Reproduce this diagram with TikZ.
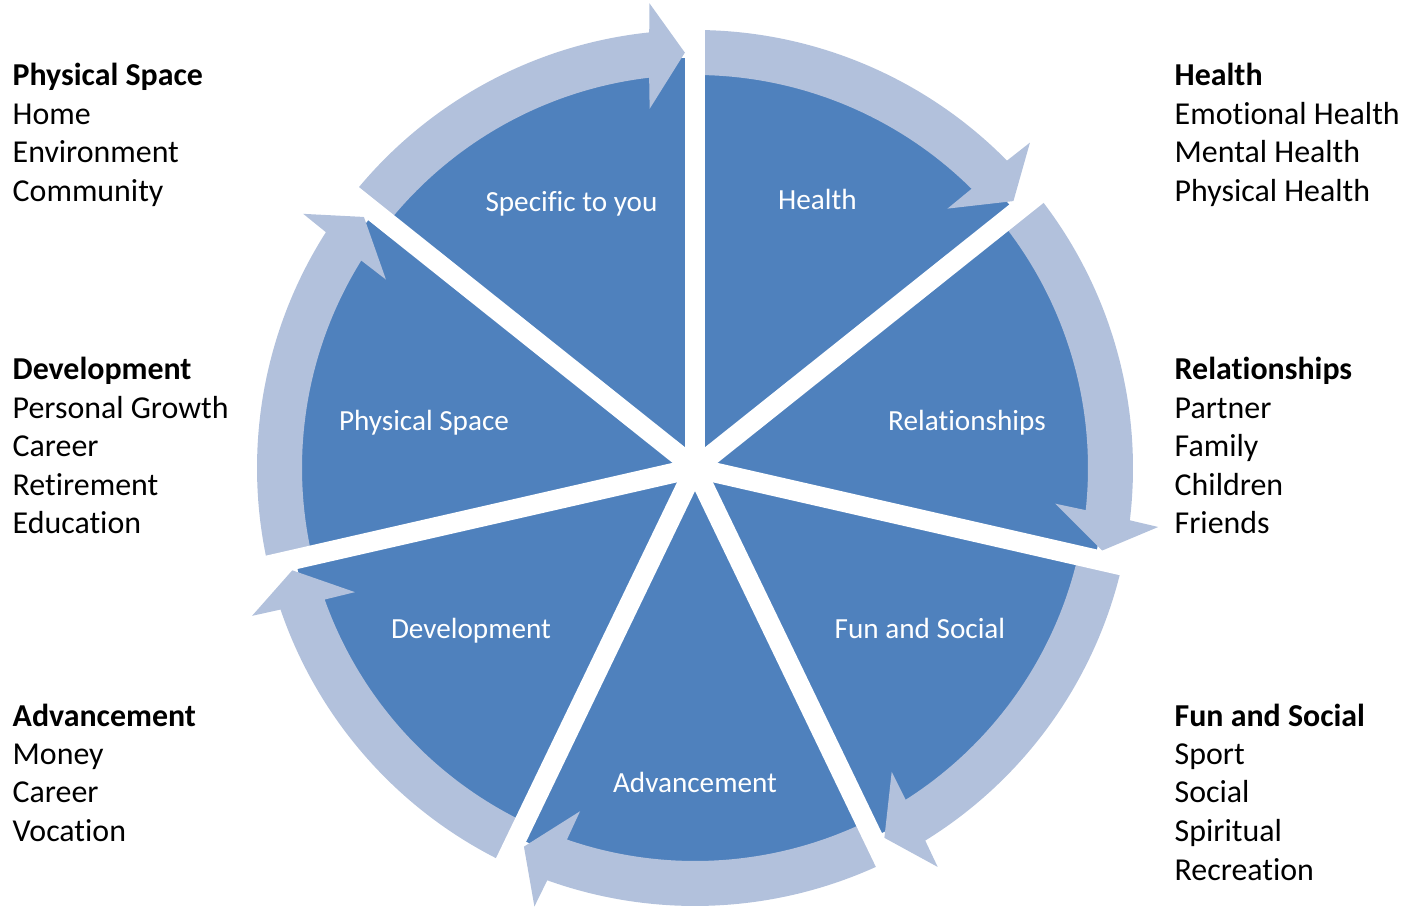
\documentclass[tikz,border=0pt]{standalone}
\usepackage{fontspec}
\setmainfont{Carlito}[RawFeature={-liga;-dlig;-calt;-clig}]
\definecolor{piecol}{HTML}{4F81BD}
\definecolor{arrcol}{HTML}{B2C1DC}
\tikzset{
  piefill/.style={fill=piecol},
  arrowfill/.style={fill=arrcol},
  gapline/.style={draw=white, line width=20pt},
  seglabel/.style={text=white, anchor=base, inner sep=0pt, font=\fontsize{29.2}{35}\selectfont},
  sidelabel/.style={text=black, anchor=base west, inner sep=0pt, font=\fontsize{31.9}{38.5}\selectfont}
}
\begin{document}
\begin{tikzpicture}[x=1pt,y=1pt]
\useasboundingbox (0,0) rectangle (1401,906);
\begin{scope}[shift={(695,438)}]
  \fill[piefill] (0,0) circle[radius=410];
  \foreach \k in {0,...,6} {
    \pgfmathsetmacro\s{141.4286-51.4286*\k}
    \pgfmathsetmacro\e{\s-51.4286}
    \pgfmathsetmacro\t{\e+1.4}
    \pgfmathsetmacro\ao{\t+4.6}
    \pgfmathsetmacro\bo{\t+4.2}
    \pgfmathsetmacro\bi{\t+5.8}
    \pgfmathsetmacro\ai{\t+5.3}
    \fill[arrowfill] (\s:393) -- (\s:438) arc[start angle=\s, end angle=\ao, radius=438]
      -- (\bo:467) -- (\t:415.5) -- (\bi:362) -- (\ai:393)
      arc[start angle=\ai, end angle=\s, radius=393] -- cycle;
  }
  \foreach \k in {0,...,6} {
    \draw[gapline] (0,0) -- ({90-51.4286*\k}:452);
  }
  \fill[white] (0,0) circle[radius=10];
\end{scope}

\node[seglabel] (lspec) at (571.5,694.5) {Specific to you};
\node[seglabel] (lhealth) at (817.5,696.5) {Health};
\node[seglabel] (lrel) at (967,475.5) {Relationships};
\node[seglabel] (lfun) at (920,267.5) {Fun and Social};
\node[seglabel] (ladv) at (695,113.5) {Advancement};
\node[seglabel] (ldev) at (471,267.5) {Development};
\node[seglabel] (lphys) at (424,475.5) {Physical Space};

\node[sidelabel] (tps) at (12.5,820) {\begin{tabular}[t]{@{}l@{}}\textbf{Physical Space}\\Home\\Environment\\Community\end{tabular}};
\node[sidelabel] (tdev) at (12.5,526) {\begin{tabular}[t]{@{}l@{}}\textbf{Development}\\Personal Growth\\Career\\Retirement\\Education\end{tabular}};
\node[sidelabel] (tadv) at (12.5,180) {\begin{tabular}[t]{@{}l@{}}\textbf{Advancement}\\Money\\Career\\Vocation\end{tabular}};
\node[sidelabel] (th) at (1174.5,820) {\begin{tabular}[t]{@{}l@{}}\textbf{Health}\\Emotional Health\\Mental Health\\Physical Health\end{tabular}};
\node[sidelabel] (tr) at (1174.5,526) {\begin{tabular}[t]{@{}l@{}}\textbf{Relationships}\\Partner\\Family\\Children\\Friends\end{tabular}};
\node[sidelabel] (tf) at (1174.5,180) {\begin{tabular}[t]{@{}l@{}}\textbf{Fun and Social}\\Sport\\Social\\Spiritual\\Recreation\end{tabular}};
\end{tikzpicture}
\end{document}
